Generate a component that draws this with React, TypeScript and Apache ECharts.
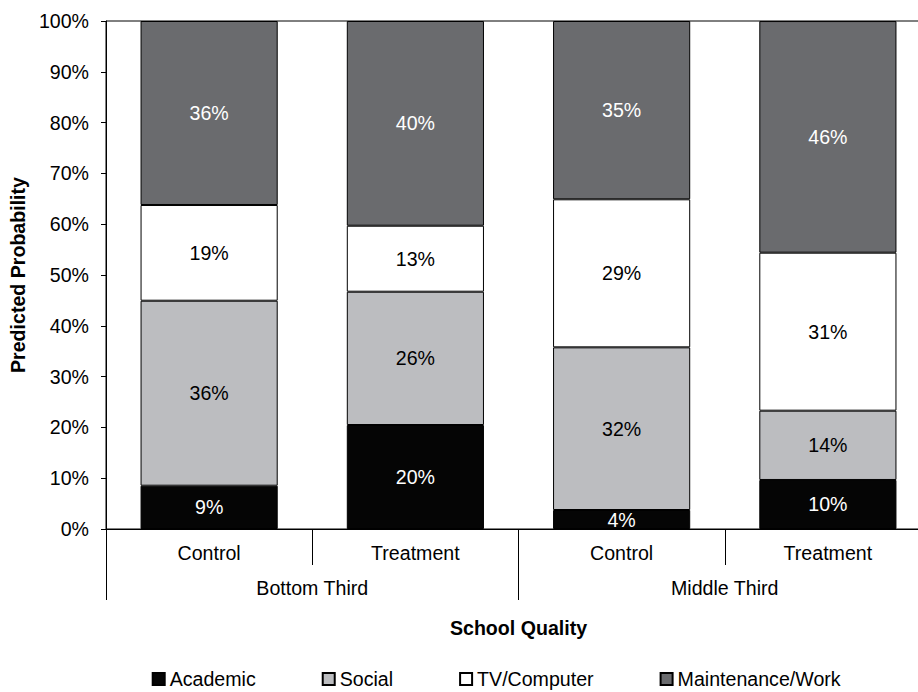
import React, { useEffect, useRef } from "react";
import * as echarts from "echarts";

// Predicted probability (%) of each after-school activity, by group
const groups = ["Control", "Treatment", "Control", "Treatment"];
const qualityLevels = ["Bottom Third", "Middle Third"];
const academic = [8.52, 20.47, 3.74, 9.65];
const social = [36.42, 26.24, 32.02, 13.64];
const tvComputer = [18.84, 12.99, 29.14, 31.1];
const maintenanceWork = [36.22, 40.3, 35.1, 45.6];

const FONT = '"Liberation Sans", Arial, Helvetica, sans-serif';
const FS = 19.6;

export default function App() {
  const ref = useRef<HTMLDivElement>(null);

  useEffect(() => {
    if (!ref.current) return;
    const chart = echarts.init(ref.current, null, { renderer: "svg" });

    const makeSeries = (
      name: string,
      data: number[],
      fill: string,
      labelColor: string
    ) => ({
      name,
      type: "bar",
      stack: "total",
      data,
      barWidth: "66.5%",
      itemStyle: { color: fill, borderColor: "#000", borderWidth: 1 },
      label: {
        show: true,
        position: "inside",
        color: labelColor,
        fontFamily: FONT,
        fontSize: FS,
        formatter: (p: any) => Math.round(p.value) + "%",
      },
      emphasis: { disabled: true },
    });

    chart.setOption({
      animation: false,
      backgroundColor: "#fff",
      textStyle: { fontFamily: FONT },
      grid: {
        left: 105,
        right: 0,
        top: 21,
        bottom: 163,
        show: true,
        borderColor: "#000",
        borderWidth: 1,
        backgroundColor: "transparent",
      },
      legend: {
        left: 146.7,
        top: 664,
        icon: "rect",
        itemWidth: 12,
        itemHeight: 12,
        itemGap: 66,
        textStyle: {
          fontFamily: FONT,
          fontSize: FS,
          lineHeight: 18,
          color: "#000",
        },
        data: ["Academic", "Social", "TV/Computer", "Maintenance/Work"],
      },
      xAxis: [
        {
          type: "category",
          data: groups,
          position: "bottom",
          axisLine: { show: true, lineStyle: { color: "#000", width: 1 } },
          axisTick: {
            show: true,
            length: 36,
            interval: 0,
            lineStyle: { color: "#000", width: 1 },
          },
          axisLabel: {
            color: "#000",
            fontFamily: FONT,
            fontSize: FS,
            margin: 14,
            interval: 0,
          },
          splitLine: { show: false },
        },
        {
          type: "category",
          data: qualityLevels,
          position: "bottom",
          axisLine: { show: false },
          axisTick: {
            show: true,
            length: 71,
            interval: 0,
            lineStyle: { color: "#000", width: 1 },
          },
          axisLabel: {
            color: "#000",
            fontFamily: FONT,
            fontSize: FS,
            margin: 49,
            interval: 0,
          },
          splitLine: { show: false },
          name: "School Quality",
          nameLocation: "middle",
          nameGap: 89,
          nameTextStyle: {
            color: "#000",
            fontFamily: FONT,
            fontSize: FS,
            fontWeight: "bold",
          },
        },
      ],
      yAxis: {
        type: "value",
        min: 0,
        max: 100,
        interval: 10,
        axisLine: { show: true, lineStyle: { color: "#000", width: 1 } },
        axisTick: { show: true, length: 5, lineStyle: { color: "#000" } },
        axisLabel: {
          formatter: "{value}%",
          color: "#000",
          fontFamily: FONT,
          fontSize: FS,
          margin: 17,
        },
        splitLine: { show: false },
        name: "Predicted Probability",
        nameLocation: "middle",
        nameRotate: 90,
        nameGap: 75,
        nameTextStyle: {
          color: "#000",
          fontFamily: FONT,
          fontSize: FS,
          fontWeight: "bold",
        },
      },
      series: [
        makeSeries("Academic", academic, "#050505", "#fff"),
        makeSeries("Social", social, "#bcbdc0", "#000"),
        makeSeries("TV/Computer", tvComputer, "#ffffff", "#000"),
        makeSeries("Maintenance/Work", maintenanceWork, "#6a6b6e", "#fff"),
      ],
    });

    return () => chart.dispose();
  }, []);

  // The plot area runs a little past the right edge of the 918px window
  return (
    <div
      ref={ref}
      style={{ position: "fixed", left: 0, top: 0, width: 931, height: 692 }}
    />
  );
}
